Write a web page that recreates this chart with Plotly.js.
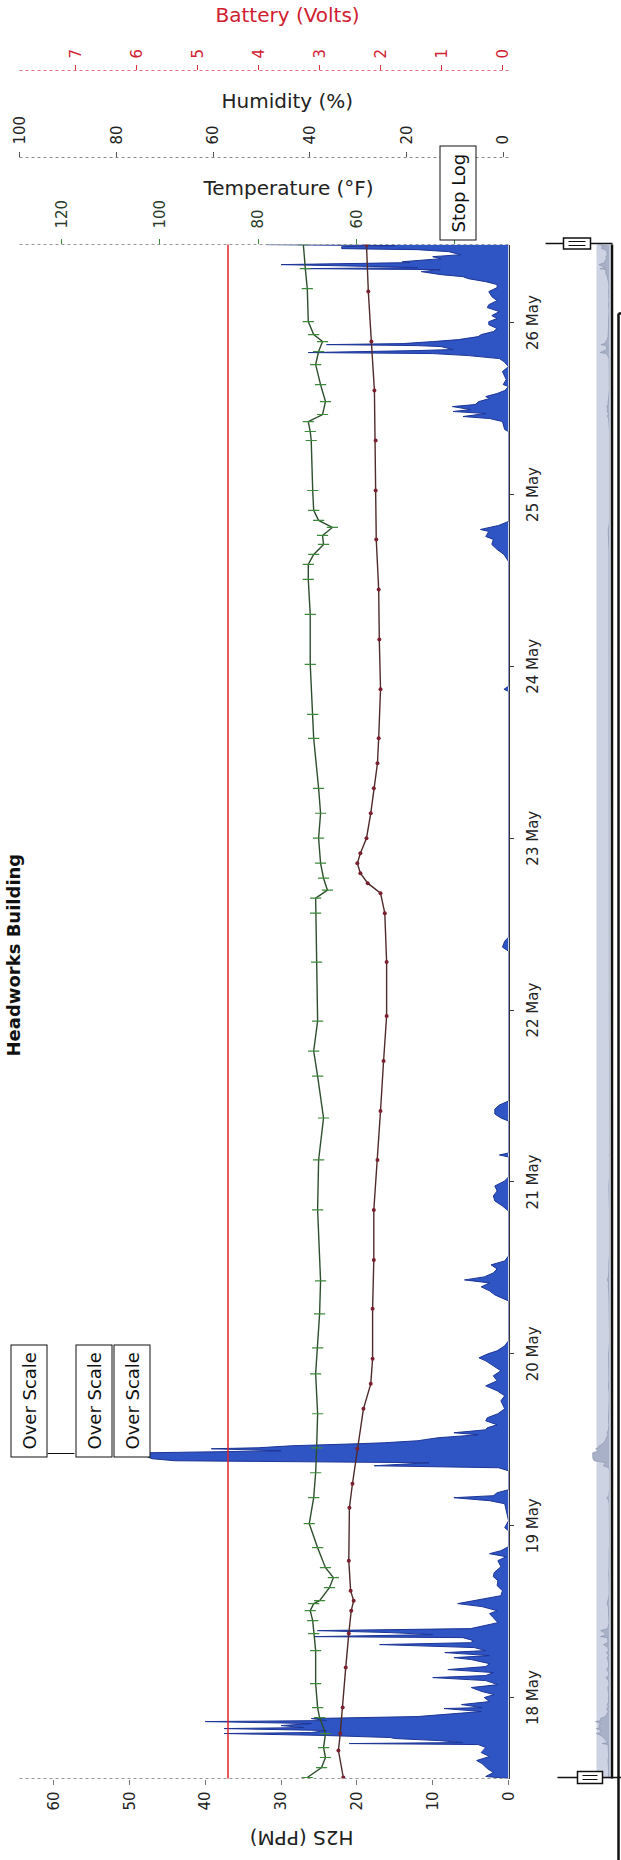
<!DOCTYPE html>
<html><head><meta charset="utf-8">
<script src="https://cdn.plot.ly/plotly-3.0.1.min.js"></script>
<style>
html,body{margin:0;padding:0;background:#fff;overflow:hidden;width:621px;height:1860px;}
#wrap{position:absolute;left:0;top:0;width:621px;height:1860px;overflow:hidden;background:#fff;}
#chart{position:absolute;left:-619.5px;top:619.5px;width:1860px;height:621px;transform:rotate(-90deg);transform-origin:930px 310.5px;}
</style></head>
<body><div id="wrap"><div id="chart"></div></div>
<script>
// ---------- data (hours after 18 May 00:00) ----------
const baseDay = '2015-05-18';
const timeRangeHours = [-11.3, 202.9];

const h2sHours = [
-11.30,-11.02,-10.46,-9.91,-9.21,-8.79,-8.23,-7.67,-6.98,-6.56,
-6.42,-6.28,-6.00,-5.72,-5.58,-5.30,-5.02,-4.88,-4.60,-4.33,
-4.19,-3.91,-3.63,-3.35,-3.21,-2.93,-2.65,-2.51,-2.23,-1.95,
-1.53,-1.40,-0.98,-0.56,0,0.42,0.84,1.40,1.81,2.37,
2.79,3.07,3.49,3.91,4.33,4.74,5.30,5.58,5.86,6.28,
6.56,6.98,7.40,7.67,7.95,8.37,8.51,8.79,9.07,9.35,
9.63,10.05,10.46,11.16,11.72,12.14,12.70,13.12,13.53,13.81,
14.23,14.93,15.63,16.33,16.88,17.44,18.28,19.12,19.67,20.09,
20.51,21.07,23.30,23.72,24.70,27.07,27.49,27.91,28.19,28.60,
29.02,31.67,32.09,32.37,32.79,33.07,33.35,33.77,34.18,34.46,
34.74,34.88,35.16,35.44,35.58,35.86,36.28,36.70,36.98,37.39,
37.67,38.09,38.65,39.07,39.63,40.32,41.44,42.14,42.84,43.53,
44.23,44.93,45.63,46.32,47.02,47.44,48.00,48.42,49.11,49.81,
51.21,55.39,56.23,56.79,57.35,57.90,58.32,58.74,59.30,59.86,
60.42,60.97,61.67,67.95,68.65,69.35,70.04,70.74,71.44,72.14,
72.70,75.49,75.77,76.04,80.51,80.93,81.49,82.18,82.74,83.30,
104.23,104.79,105.62,106.18,140.51,140.79,141.20,158.65,159.62,160.32,
161.02,161.72,162.13,162.83,163.11,163.67,164.23,176.79,177.06,178.18,
178.60,178.88,179.30,179.58,179.85,180.27,180.55,180.97,181.39,181.67,
182.09,182.51,183.06,183.34,184.04,185.16,185.85,186.55,186.97,187.39,
187.67,187.81,188.09,188.23,188.64,188.78,188.92,189.06,189.34,189.62,
190.04,190.32,190.74,191.16,191.71,192.13,192.55,192.97,193.53,194.09,
194.50,195.06,195.62,196.32,196.88,197.30,197.71,198.13,198.41,198.69,
199.11,199.39,199.53,199.67,199.81,200.09,200.37,200.50,200.92,201.20,
201.48,201.90,202.18,202.32,202.60,202.74,202.88];
const h2sPpm = [
0,3.0,2.0,2.8,3.5,4.2,2.5,3.6,3.0,4.0,
21.0,6.0,9.3,15.0,15.6,24.0,37.5,26.0,24.0,37.5,
27.0,30.0,26.0,40.0,24.0,26.0,12.0,10.4,6.0,3.6,
8.5,3.5,6.2,2.5,3.2,1.9,3.5,4.9,1.4,3.0,
10.0,3.0,2.0,8.0,3.0,2.5,4.9,7.2,2.5,8.4,
3.0,4.5,17.0,5.0,4.6,6.0,25.6,10.0,15.6,25.2,
5.0,3.0,1.4,2.0,2.5,1.5,3.5,6.7,4.5,3.0,
1.0,0.8,1.5,1.4,2.0,1.9,1.0,1.4,0.3,2.5,
1.0,0,0,0.5,0,0.5,2.5,7.2,2.0,1.5,
0,0,1.3,17.7,10.5,44.0,47.0,48.0,47.7,30.0,
39.2,33.0,28.6,20.0,16.4,12.0,9.3,4.0,7.2,3.0,
2.8,1.5,3.0,2.8,1.4,0.5,1.0,0.5,1.5,3.0,
1.5,2.0,1.0,2.0,3.0,3.9,2.7,1.5,0.5,0,
0,0,1.8,2.5,3.6,2.5,5.8,3.2,2.0,1.5,
2.3,0.5,0,0,0.8,1.8,2.0,1.5,1.8,0.5,
0,0,1.2,0,0,1.0,1.8,1.8,1.2,0,
0,0.8,0.5,0,0,0.6,0,0,0.6,1.5,
2.2,2.0,3.0,2.6,3.7,1.3,0,0,0.5,0.8,
2.5,6.0,3.0,7.3,5.0,7.4,4.4,3.9,2.5,3.0,
1.5,0.5,0,0.7,0.3,0.8,0,0.6,1.2,5.3,
10.0,26.4,12.0,7.3,8.9,12.0,24.0,14.0,10.0,6.6,
4.0,3.6,2.0,1.5,2.6,2.6,1.5,2.2,1.2,2.8,
2.6,1.5,2.2,2.6,1.5,1.5,3.0,5.3,6.0,8.9,
11.5,9.0,27.0,12.0,16.7,30.0,13.0,14.0,8.9,10.0,
6.3,7.9,12.0,22.0,22.0,15.0,32.0];

const tempHours = [-11.16,-9.77,-8.37,-6.98,-5.02,-2.79,-1.40,1.95,6.56,8.93,
10.74,12.14,13.12,13.53,15.35,16.74,18.14,20.93,24.28,27.91,
31.39,34.88,39.63,45.21,48.84,53.58,58.18,68.09,75.07,80.93,
86.79,90.28,94.46,102.70,109.53,111.62,112.74,114.41,116.51,120.00,
123.48,126.97,133.95,137.30,144.27,151.25,156.13,158.23,159.62,161.02,
162.27,163.39,164.38,165.77,168.55,175.53,176.79,178.18,179.16,180.97,
183.34,186.13,187.95,189.35,190.32,192.13,196.73,199.53,202.88];
const tempF = [70.0,67.1,66.3,66.7,66.3,67.5,67.9,68.3,68.3,68.7,
68.9,69.4,68.7,67.5,65.5,64.7,66.3,67.9,69.6,68.7,
68.3,68.1,67.9,68.3,67.9,67.5,67.3,67.9,67.7,66.7,
67.9,68.7,67.9,68.1,68.3,68.3,65.9,66.7,67.3,67.7,
67.3,67.7,68.7,68.9,69.4,69.4,69.8,69.8,68.7,66.7,
66.9,64.9,67.7,68.7,68.9,69.2,69.4,69.8,66.9,66.3,
67.3,68.3,67.7,66.9,68.7,69.8,70.0,70.4,70.8];

const battHours = [-11.16,-7.40,-5.02,-1.40,4.19,8.93,12.14,13.53,14.93,19.12,
26.51,29.86,34.74,40.32,43.81,47.30,54.28,61.11,68.09,75.07,
81.90,88.88,95.16,102.70,109.53,112.32,113.72,115.11,116.51,117.90,
120.00,123.48,126.97,130.46,133.95,140.79,147.76,154.74,161.71,168.55,
175.53,182.51,189.35,196.32,202.88];
const battVolts = [2.61,2.69,2.66,2.62,2.57,2.52,2.48,2.44,2.49,2.52,
2.51,2.46,2.38,2.28,2.16,2.13,2.13,2.11,2.11,2.05,
2.00,1.95,1.90,1.90,1.93,2.00,2.21,2.33,2.38,2.33,
2.23,2.16,2.11,2.05,2.03,2.00,2.02,2.03,2.07,2.08,
2.08,2.10,2.15,2.20,2.23];

const alarmPpm = 37;
const overScaleHour = 33.5;
const overScalePpm = [63.3, 54.7, 49.6];

// ---------- helpers ----------
const base = Date.parse(baseDay + 'T00:00:00Z');
function toDate(h){ return new Date(base + Math.round(h*3600000)).toISOString().slice(0,19).replace('T',' '); }
const W=1860,H=621,L=82,R=20,T=19,B=6;
const PW=W-L-R, PH=H-T-B;
const px = d => (d-L)/PW;
const py = d => (H-B-d)/PH;
const xDom=[0, px(1616)];
const yDom=[py(508), 1];
const xr = timeRangeHours.map(toDate);
const FONT='DejaVu Sans';

const h2sX = h2sHours.map(toDate);
const traces = [
 {x:h2sX, y:h2sPpm, type:'scatter', mode:'lines', fill:'tozeroy', fillcolor:'#2f55c4',
  line:{color:'#1d3596', width:1}, xaxis:'x', yaxis:'y', hoverinfo:'skip'},
 {x:tempHours.map(toDate), y:tempF, type:'scatter', mode:'lines+markers', xaxis:'x', yaxis:'y2',
  line:{color:'#2e4e2e', width:1.4}, marker:{symbol:'line-ns-open', size:8, color:'#3d8a3d', line:{width:1.2, color:'#3d8a3d'}}, hoverinfo:'skip'},
 {x:battHours.map(toDate), y:battVolts, type:'scatter', mode:'lines+markers', xaxis:'x', yaxis:'y4',
  line:{color:'#4e2a2a', width:1.4}, marker:{symbol:'circle', size:4, color:'#7a2030'}, hoverinfo:'skip'},
 {x:[xr[0]], y:[50], type:'scatter', mode:'markers', marker:{opacity:0}, xaxis:'x', yaxis:'y3', hoverinfo:'skip'},
 {x:h2sX, y:h2sPpm, type:'scatter', mode:'lines', fill:'tozeroy', fillcolor:'#a9b1c8',
  line:{color:'#8a92aa', width:0.6}, xaxis:'x2', yaxis:'y5', hoverinfo:'skip'}
];

const tf = {family:FONT, size:15, color:'#222'};
const layout = {
 width:W, height:H, margin:{l:L, r:R, t:T, b:B}, showlegend:false,
 paper_bgcolor:'#fff', plot_bgcolor:'rgba(0,0,0,0)', font:{family:FONT, color:'#222'},
 xaxis:{domain:xDom, anchor:'y', type:'date', range:xr, dtick:86400000, tick0:baseDay, tickformat:'%d %b',
  ticks:'outside', ticklen:4, tickcolor:'#444', showline:true, linecolor:'#333', linewidth:1,
  showgrid:false, zeroline:false, tickfont:tf, ticklabelstandoff:6},
 yaxis:{domain:yDom, anchor:'x', range:[0,64.5], dtick:10, ticks:'outside', ticklen:5, tickcolor:'#777',
  showline:false, showgrid:false, zeroline:false, tickfont:tf, ticklabelstandoff:4},
 yaxis2:{domain:yDom, overlaying:'y', anchor:'x', side:'right', range:[29.1,128.5], dtick:20, tick0:0,
  ticks:'outside', ticklen:5, tickcolor:'#3a8a3a', showline:false, showgrid:false, zeroline:false,
  tickfont:{family:FONT, size:15, color:'#2a3a2a'}, ticklabelstandoff:7},
 yaxis3:{domain:yDom, overlaying:'y', anchor:'free', position:px(1703), side:'right', range:[-1.1,100.05], dtick:20, tick0:0,
  ticks:'outside', ticklen:5, tickcolor:'#555', showline:false, showgrid:false, zeroline:false,
  tickfont:tf, ticklabelstandoff:4},
 yaxis4:{domain:yDom, overlaying:'y', anchor:'free', position:px(1790), side:'right', range:[-0.098,7.918], dtick:1, tick0:0,
  ticks:'outside', ticklen:5, tickcolor:'#d8303a', showline:false, showgrid:false, zeroline:false,
  tickfont:{family:FONT, size:15, color:'#d02030'}, ticklabelstandoff:3},
 xaxis2:{domain:xDom, anchor:'y5', type:'date', range:xr, visible:false},
 yaxis5:{domain:[py(609), py(590)], anchor:'x2', range:[0,54], visible:false},
 shapes:[
  {type:'rect', xref:'paper', yref:'paper', x0:0, x1:xDom[1], y0:py(610), y1:py(596), fillcolor:'#cdd3e3', line:{width:0}, layer:'below'},
  {type:'line', xref:'paper', yref:'y', x0:0, x1:xDom[1], y0:alarmPpm, y1:alarmPpm, line:{color:'#e2232c', width:1.5}},
  {type:'line', xref:'paper', yref:'paper', x0:0, x1:0, y0:yDom[0], y1:1, line:{color:'#999', width:1, dash:'dot'}},
  {type:'line', xref:'paper', yref:'paper', x0:xDom[1], x1:xDom[1], y0:yDom[0], y1:1, line:{color:'#999', width:1, dash:'dot'}},
  {type:'line', xref:'paper', yref:'paper', x0:px(1703), x1:px(1703), y0:yDom[0], y1:1, line:{color:'#888', width:1, dash:'dot'}},
  {type:'line', xref:'paper', yref:'paper', x0:px(1790), x1:px(1790), y0:yDom[0], y1:1, line:{color:'#e07080', width:1, dash:'dot'}},
  {type:'line', xref:'paper', yref:'paper', x0:px(407), x1:px(407), y0:py(47), y1:py(74), line:{color:'#111', width:1}},
  {type:'line', xref:'paper', yref:'paper', x0:0, x1:xDom[1], y0:py(611.5), y1:py(611.5), line:{color:'#111', width:2.5}},
  {type:'line', xref:'paper', yref:'paper', x0:px(-5), x1:px(1547), y0:py(618), y1:py(618), line:{color:'#111', width:2.5}},
  {type:'line', xref:'paper', yref:'paper', x0:px(1547), x1:px(1547), y0:py(618), y1:py(630), line:{color:'#111', width:2.5}},
  // top handle
  {type:'line', xref:'paper', yref:'paper', x0:px(1617), x1:px(1617), y0:py(545), y1:py(612), line:{color:'#111', width:1.3}},
  {type:'rect', xref:'paper', yref:'paper', x0:px(1611.5), x1:px(1622.5), y0:py(590), y1:py(563), fillcolor:'#fff', line:{color:'#111', width:1.5}},
  {type:'line', xref:'paper', yref:'paper', x0:px(1615), x1:px(1615), y0:py(585), y1:py(568), line:{color:'#111', width:1}},
  {type:'line', xref:'paper', yref:'paper', x0:px(1619), x1:px(1619), y0:py(585), y1:py(568), line:{color:'#111', width:1}},
  // bottom handle
  {type:'line', xref:'paper', yref:'paper', x0:px(83), x1:px(83), y0:py(557), y1:py(625), line:{color:'#111', width:1.3}},
  {type:'rect', xref:'paper', yref:'paper', x0:px(77), x1:px(89), y0:py(602), y1:py(577), fillcolor:'#fff', line:{color:'#111', width:1.5}},
  {type:'line', xref:'paper', yref:'paper', x0:px(81), x1:px(81), y0:py(597), y1:py(582), line:{color:'#111', width:1}},
  {type:'line', xref:'paper', yref:'paper', x0:px(85), x1:px(85), y0:py(597), y1:py(582), line:{color:'#111', width:1}}
 ],
 annotations:[
  {text:'<b>Headworks Building</b>', xref:'paper', yref:'paper', x:px(905), y:py(12), xanchor:'center', yanchor:'middle', showarrow:false, font:{family:FONT, size:18, color:'#111'}},
  {text:'H2S (PPM)', xref:'paper', yref:'paper', x:px(23), y:py(301), textangle:-90, xanchor:'center', yanchor:'middle', showarrow:false, font:{family:FONT, size:20, color:'#222'}},
  {text:'Temperature (°F)', xref:'paper', yref:'paper', x:px(1673), y:py(287), textangle:90, xanchor:'center', yanchor:'middle', showarrow:false, font:{family:FONT, size:20, color:'#222'}},
  {text:'Humidity (%)', xref:'paper', yref:'paper', x:px(1760), y:py(287), textangle:90, xanchor:'center', yanchor:'middle', showarrow:false, font:{family:FONT, size:20, color:'#222'}},
  {text:'Battery (Volts)', xref:'paper', yref:'paper', x:px(1846), y:py(287), textangle:90, xanchor:'center', yanchor:'middle', showarrow:false, font:{family:FONT, size:20, color:'#d02030'}},
  {text:'Stop Log', xref:'paper', yref:'paper', x:px(1620), y:py(457.5), xanchor:'left', yanchor:'middle', showarrow:false, font:{family:FONT, size:18, color:'#111'}, bordercolor:'#111', borderwidth:1, borderpad:7, bgcolor:'#fff'}
 ].concat(overScalePpm.map(v => ({text:'Over Scale', xref:'x', yref:'y', x:toDate(overScaleHour), y:v, xanchor:'left', yanchor:'middle', showarrow:false,
   font:{family:FONT, size:18, color:'#111'}, bordercolor:'#111', borderwidth:1, borderpad:7, bgcolor:'#fff'})))
};
Plotly.newPlot('chart', traces, layout, {staticPlot:true, displayModeBar:false});
</script></body></html>
